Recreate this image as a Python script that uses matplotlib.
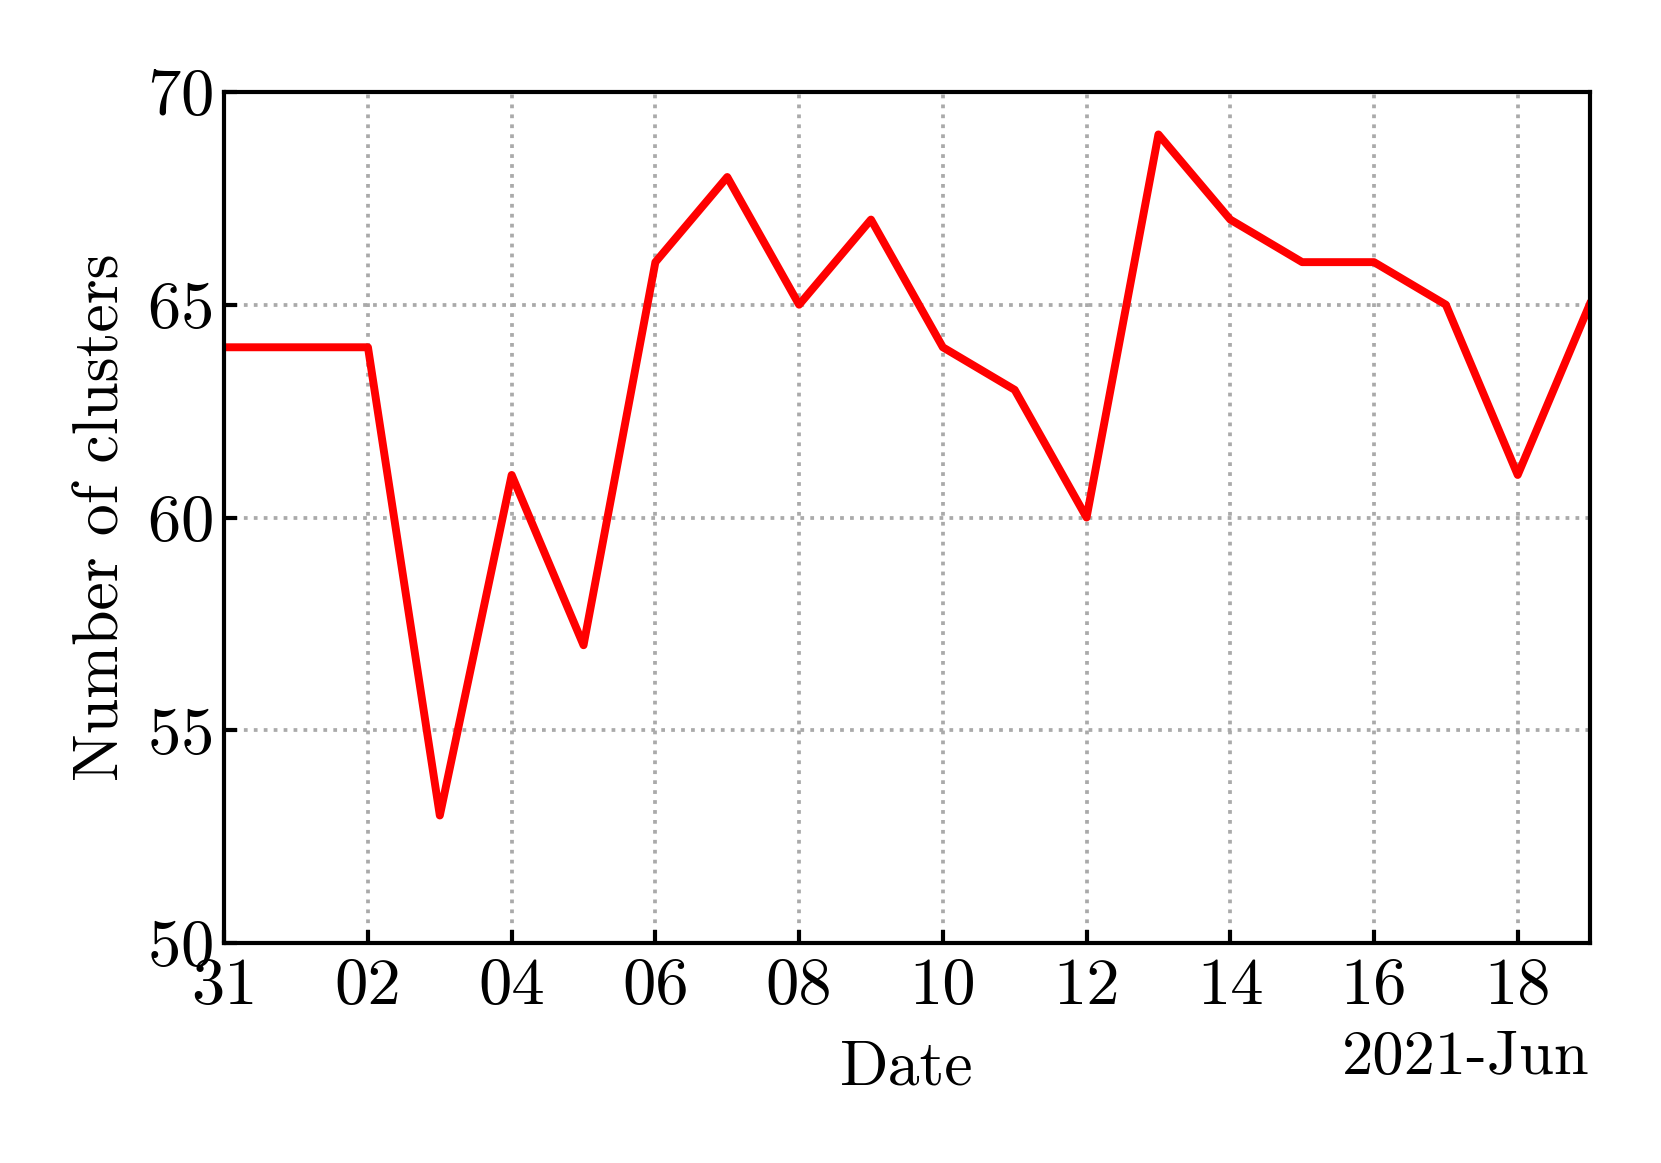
import matplotlib
matplotlib.use("Agg")
import matplotlib.pyplot as plt
import matplotlib.dates as mdates
import numpy as np
import pandas as pd

plt.rcParams['font.family'] = ['cmr10', 'DejaVu Serif']
plt.rcParams['mathtext.fontset'] = 'cm'
plt.rcParams['axes.formatter.use_mathtext'] = True
plt.rcParams['font.size'] = 16

dates = pd.date_range("2021-05-31", "2021-06-19", freq="D")
clusters = [64, 64, 64, 53, 61, 57, 66, 68, 65, 67, 64, 63, 60, 69, 67, 66, 66, 65, 61, 65]
yticks = [50, 55, 60, 65, 70]

fig = plt.figure(figsize=(1661/300, 1163/300), dpi=300)
ax = fig.add_axes([0.135, 0.189, 0.822, 0.732])
ax.plot(dates, clusters, color='red', linewidth=1.9)
ax.set_xlim(dates[0], dates[-1])
ax.set_ylim(50, 70)
ax.set_yticks(yticks)
ax.xaxis.set_major_locator(mdates.DayLocator(bymonthday=[31, 2, 4, 6, 8, 10, 12, 14, 16, 18]))
ax.xaxis.set_major_formatter(mdates.DateFormatter('%d'))
ax.annotate('2021-Jun', xy=(1.0, 0), xycoords='axes fraction', xytext=(0, -21), textcoords='offset points',
            ha='right', va='top', fontsize=15)
ax.grid(True, linestyle=':', color='#aaaaaa', linewidth=0.9)
ax.tick_params(direction='in', length=3.2, width=1.0, labelsize=16)
ax.tick_params(axis='y', pad=2.8)
ax.tick_params(axis='x', pad=3.3)
for s in ax.spines.values():
    s.set_linewidth(1.0)
ax.set_xlabel('Date', fontsize=15.3, labelpad=5.5)
ax.set_ylabel('Number of clusters', fontsize=15.3, labelpad=3.5)
fig.savefig('out.png', dpi=300)
